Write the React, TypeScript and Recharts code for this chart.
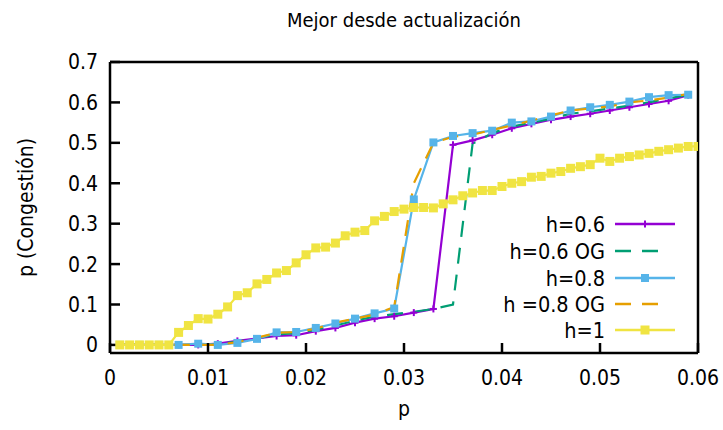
import { LineChart, Line, XAxis, YAxis, Legend } from "recharts"

const FONT = '"DejaVu Sans Condensed", "DejaVu Sans", sans-serif'

// p values of the h < 1 runs (every 0.002)
const pCoarse = [
  0.001, 0.003, 0.005, 0.007, 0.009, 0.011, 0.013, 0.015, 0.017, 0.019,
  0.021, 0.023, 0.025, 0.027, 0.029, 0.031, 0.033, 0.035, 0.037, 0.039,
  0.041, 0.043, 0.045, 0.047, 0.049, 0.051, 0.053, 0.055, 0.057, 0.059,
]

const congestionH06 = [
  0, 0, 0, 0, 0, 0.003, 0.01, 0.016, 0.022, 0.024,
  0.034, 0.042, 0.055, 0.065, 0.071, 0.08, 0.089, 0.495, 0.506, 0.52,
  0.536, 0.547, 0.557, 0.565, 0.572, 0.58, 0.588, 0.596, 0.604, 0.618,
]

const congestionH06OG = [
  0, 0, 0, 0, 0, 0.002, 0.008, 0.016, 0.026, 0.029,
  0.038, 0.048, 0.06, 0.07, 0.076, 0.082, 0.089, 0.1, 0.498, 0.524,
  0.54, 0.55, 0.56, 0.572, 0.578, 0.585, 0.592, 0.6, 0.61, 0.619,
]

const congestionH08 = [
  0, 0, 0, 0, 0.003, 0, 0.005, 0.015, 0.031, 0.032,
  0.042, 0.053, 0.065, 0.078, 0.09, 0.36, 0.501, 0.517, 0.524, 0.53,
  0.55, 0.553, 0.565, 0.58, 0.588, 0.594, 0.602, 0.613, 0.618, 0.619,
]

const congestionH08OG = [
  0, 0, 0, 0, 0, 0, 0.007, 0.018, 0.03, 0.032,
  0.04, 0.055, 0.065, 0.075, 0.094, 0.4, 0.5, 0.515, 0.52, 0.532,
  0.543, 0.555, 0.568, 0.58, 0.585, 0.59, 0.6, 0.605, 0.612, 0.621,
]

// p values of the h = 1 run (every 0.001)
const pFine = [
  0.001, 0.002, 0.003, 0.004, 0.005, 0.006, 0.007, 0.008, 0.009, 0.01,
  0.011, 0.012, 0.013, 0.014, 0.015, 0.016, 0.017, 0.018, 0.019, 0.02,
  0.021, 0.022, 0.023, 0.024, 0.025, 0.026, 0.027, 0.028, 0.029, 0.03,
  0.031, 0.032, 0.033, 0.034, 0.035, 0.036, 0.037, 0.038, 0.039, 0.04,
  0.041, 0.042, 0.043, 0.044, 0.045, 0.046, 0.047, 0.048, 0.049, 0.05,
  0.051, 0.052, 0.053, 0.054, 0.055, 0.056, 0.057, 0.058, 0.059, 0.06,
]

const congestionH1 = [
  0, 0, 0, 0, 0, 0, 0.031, 0.048, 0.065, 0.064,
  0.076, 0.094, 0.122, 0.129, 0.151, 0.162, 0.178, 0.184, 0.203, 0.223,
  0.24, 0.242, 0.252, 0.27, 0.279, 0.283, 0.307, 0.318, 0.33, 0.336,
  0.34, 0.34, 0.339, 0.349, 0.359, 0.369, 0.376, 0.382, 0.382, 0.392,
  0.4, 0.404, 0.415, 0.417, 0.425, 0.429, 0.437, 0.441, 0.446, 0.462,
  0.454, 0.462, 0.466, 0.47, 0.474, 0.479, 0.483, 0.487, 0.491, 0.491,
]

const xTicks = [0, 0.01, 0.02, 0.03, 0.04, 0.05, 0.06]
const xTickLabels = ["0", "0.01", "0.02", "0.03", "0.04", "0.05", "0.06"]
const yTicks = [0, 0.1, 0.2, 0.3, 0.4, 0.5, 0.6, 0.7]
const yTickLabels = ["0", "0.1", "0.2", "0.3", "0.4", "0.5", "0.6", "0.7"]

const toPoints = (ps: number[], vs: number[]) => ps.map((p, i) => ({ p, v: vs[i] }))

type Marker = "plus" | "square" | "none"

interface SeriesDef {
  name: string
  color: string
  dash?: string
  marker: Marker
  markerSize: number
  points: { p: number; v: number }[]
}

const series: SeriesDef[] = [
  { name: "h=0.6", color: "#9400d3", marker: "plus", markerSize: 7, points: toPoints(pCoarse, congestionH06) },
  { name: "h=0.6 OG", color: "#009e73", dash: "16 11", marker: "none", markerSize: 0, points: toPoints(pCoarse, congestionH06OG) },
  { name: "h=0.8", color: "#56b4e9", marker: "square", markerSize: 8, points: toPoints(pCoarse, congestionH08) },
  { name: "h =0.8 OG", color: "#e69f00", dash: "16 11", marker: "none", markerSize: 0, points: toPoints(pCoarse, congestionH08OG) },
  { name: "h=1", color: "#f0e442", marker: "square", markerSize: 9, points: toPoints(pFine, congestionH1) },
]

function MarkerShape({ cx, cy, s }: { cx: number; cy: number; s: SeriesDef }) {
  const h = s.markerSize / 2
  if (s.marker === "square") {
    return <rect x={cx - h} y={cy - h} width={s.markerSize} height={s.markerSize} fill={s.color} />
  }
  if (s.marker === "plus") {
    return (
      <g stroke={s.color} strokeWidth={2}>
        <line x1={cx - h} y1={cy} x2={cx + h} y2={cy} />
        <line x1={cx} y1={cy - h} x2={cx} y2={cy + h} />
      </g>
    )
  }
  return null
}

const makeDot = (s: SeriesDef) => (props: any) => {
  const { cx, cy, index } = props
  if (s.marker === "none" || cx == null || cy == null) return <g key={`${s.name}-${index}`} />
  return (
    <g key={`${s.name}-${index}`}>
      <MarkerShape cx={cx} cy={cy} s={s} />
    </g>
  )
}

// legend box, drawn right-aligned like the plot key
function KeyBox() {
  const textRight = 165
  const lineStart = 175
  const lineEnd = 235
  const rowY = [19, 46, 73, 99, 125]
  return (
    <svg width={250} height={145} style={{ fontFamily: FONT, overflow: "visible" }}>
      {series.map((s, i) => (
        <g key={s.name}>
          <text x={textRight} y={rowY[i]} dy="0.35em" textAnchor="end" fontSize={21.5} fill="#000">
            {s.name}
          </text>
          <line
            x1={lineStart}
            y1={rowY[i]}
            x2={s.dash ? lineStart + 45 : lineEnd}
            y2={rowY[i]}
            stroke={s.color}
            strokeWidth={2.5}
            strokeDasharray={s.dash}
          />
          <MarkerShape cx={(lineStart + lineEnd) / 2} cy={rowY[i]} s={s} />
        </g>
      ))}
    </svg>
  )
}

const axisStroke = { stroke: "#000", strokeWidth: 2.5 }
const tickFont = { fontSize: 21, fill: "#000", fontFamily: FONT }

export default function App() {
  return (
    <div style={{ position: "absolute", left: 0, top: 0, width: 723, height: 430, background: "#fff", fontFamily: FONT }}>
      <LineChart width={723} height={430} margin={{ top: 61, right: 24, bottom: 17, left: 0 }}>
        <XAxis
          xAxisId="x"
          dataKey="p"
          type="number"
          domain={[0, 0.06]}
          ticks={xTicks}
          interval={0}
          tickFormatter={(_v: number, i: number) => xTickLabels[i]}
          height={60}
          tickSize={-10}
          tickMargin={27}
          axisLine={axisStroke}
          tickLine={axisStroke}
          tick={tickFont}
          allowDataOverflow
          label={{ value: "p", position: "insideBottom", offset: -3, fontSize: 21, fill: "#000", fontFamily: FONT }}
        />
        <XAxis
          xAxisId="top"
          orientation="top"
          type="number"
          domain={[0, 0.06]}
          ticks={xTicks}
          interval={0}
          height={1}
          tickSize={-10}
          axisLine={axisStroke}
          tickLine={axisStroke}
          tick={false}
          allowDataOverflow
          label={{ value: "Mejor desde actualización", position: "top", offset: 34, fontSize: 20, fill: "#000", fontFamily: FONT }}
        />
        <YAxis
          yAxisId="y"
          type="number"
          domain={[-0.02, 0.7]}
          ticks={yTicks}
          interval={0}
          tickFormatter={(_v: number, i: number) => yTickLabels[i]}
          width={110}
          tickSize={-10}
          tickMargin={22}
          axisLine={axisStroke}
          tickLine={axisStroke}
          tick={tickFont}
          allowDataOverflow
          label={{
            value: "p (Congestión)",
            angle: -90,
            position: "insideLeft",
            offset: 26,
            fontSize: 21,
            fill: "#000",
            fontFamily: FONT,
            style: { textAnchor: "middle" },
          }}
        />
        <YAxis
          yAxisId="right"
          orientation="right"
          type="number"
          domain={[-0.02, 0.7]}
          ticks={yTicks}
          interval={0}
          width={1}
          tickSize={-10}
          axisLine={axisStroke}
          tickLine={axisStroke}
          tick={false}
          allowDataOverflow
        />
        {series.map((s) => (
          <Line
            key={s.name}
            xAxisId="x"
            yAxisId="y"
            data={s.points}
            dataKey="v"
            name={s.name}
            type="linear"
            stroke={s.color}
            strokeWidth={2.2}
            strokeDasharray={s.dash}
            dot={makeDot(s)}
            activeDot={false}
            isAnimationActive={false}
          />
        ))}
        <Legend
          layout="vertical"
          align="center"
          verticalAlign="middle"
          wrapperStyle={{ position: "absolute", left: 440, top: 205, width: 250, height: 145 }}
          content={() => <KeyBox />}
        />
      </LineChart>
    </div>
  )
}
